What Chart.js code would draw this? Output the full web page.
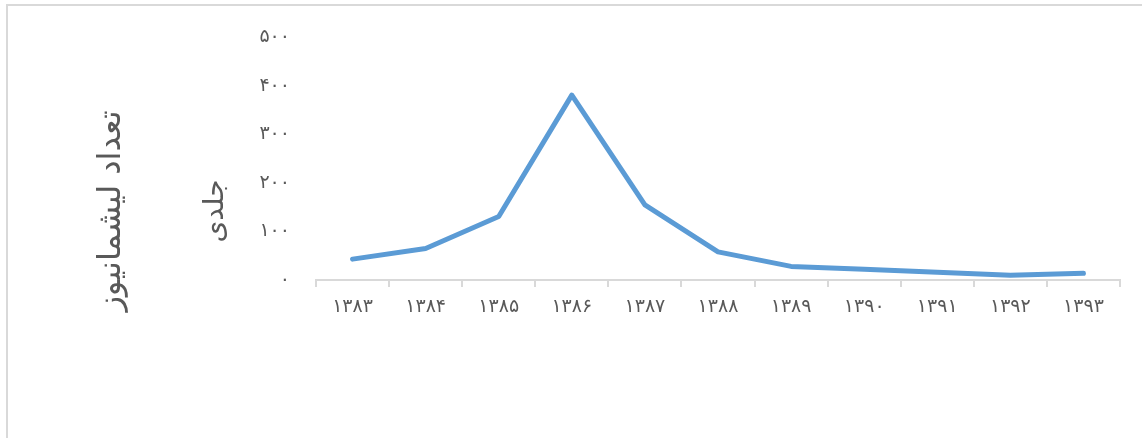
<!DOCTYPE html>
<html lang="fa">
<head>
<meta charset="utf-8">
<title>تعداد لیشمانیوز جلدی</title>
<script src="https://cdn.jsdelivr.net/npm/chart.js@4/dist/chart.umd.min.js"></script>
<style>
  html, body { margin: 0; padding: 0; background: #ffffff; }
  #wrap { position: relative; width: 1142px; height: 438px; overflow: hidden; }
  #frame {
    position: absolute; left: 6px; top: 4px; right: -10px; bottom: -10px;
    border-top: 2px solid #d9d9d9; border-left: 2px solid #d9d9d9;
    pointer-events: none;
  }
  canvas { position: absolute; left: 0; top: 0; }
</style>
</head>
<body>
<div id="wrap">
  <canvas id="chart" width="1142" height="438"></canvas>
  <div id="frame"></div>
</div>
<script>
// Years (Persian calendar) on the category axis
const years = ['۱۳۸۳', '۱۳۸۴', '۱۳۸۵', '۱۳۸۶', '۱۳۸۷', '۱۳۸۸', '۱۳۸۹', '۱۳۹۰', '۱۳۹۱', '۱۳۹۲', '۱۳۹۳'];
// Number of cutaneous leishmaniasis cases per year
const cases = [43, 65, 131, 381, 155, 58, 28, 22, 16, 10, 14];
// Value-axis tick labels (0 … 500, step 100)
const yTickValues = [0, 100, 200, 300, 400, 500];
const yTickLabels = ['۰', '۱۰۰', '۲۰۰', '۳۰۰', '۴۰۰', '۵۰۰'];
// Axis title, written on two rotated lines
const yTitleLines = ['تعداد لیشمانیوز', 'جلدی'];

const FONT = '"DejaVu Sans", sans-serif';
const TEXT = '#595959';
const AXIS = '#d9d9d9';

// Draws the rotated two-line value-axis title
const yTitlePlugin = {
  id: 'yTitle',
  afterDraw(chart) {
    const ctx = chart.ctx;
    const xs = [112, 216];
    const sizes = [32, 28];
    ctx.save();
    ctx.fillStyle = TEXT;
    ctx.textAlign = 'center';
    ctx.textBaseline = 'middle';
    yTitleLines.forEach((line, i) => {
      ctx.save();
      ctx.font = sizes[i] + 'px ' + FONT;
      ctx.translate(xs[i], 211);
      ctx.rotate(-Math.PI / 2);
      ctx.fillText(line, 0, 0);
      ctx.restore();
    });
    ctx.restore();
  }
};

new Chart(document.getElementById('chart'), {
  type: 'line',
  data: {
    labels: years,
    datasets: [{
      data: cases,
      borderColor: '#5b9bd5',
      borderWidth: 5,
      borderCapStyle: 'round',
      borderJoinStyle: 'round',
      pointRadius: 0,
      pointHoverRadius: 0,
      tension: 0,
      fill: false
    }]
  },
  options: {
    responsive: false,
    animation: false,
    events: [],
    layout: { autoPadding: false, padding: { top: 32, right: 22, bottom: 0, left: 0 } },
    plugins: { legend: { display: false }, tooltip: { enabled: false } },
    scales: {
      x: {
        offset: true,
        grid: {
          offset: true,
          drawOnChartArea: false,
          drawTicks: true,
          tickLength: 7,
          color: AXIS,
          lineWidth: 2
        },
        border: { display: true, color: AXIS, width: 2 },
        ticks: {
          color: TEXT,
          font: { family: FONT, size: 19 },
          padding: 9,
          maxRotation: 0,
          autoSkip: false
        },
        afterFit(scale) { scale.height = 158; }
      },
      y: {
        min: 0,
        max: 500,
        afterBuildTicks(scale) {
          scale.ticks = yTickValues.map(v => ({ value: v }));
        },
        grid: { display: false, drawTicks: false },
        border: { display: false },
        ticks: {
          color: TEXT,
          font: { family: FONT, size: 19 },
          padding: 26,
          callback(value) {
            const i = yTickValues.indexOf(value);
            return i >= 0 ? yTickLabels[i] : '';
          }
        },
        afterFit(scale) { scale.width = 316; }
      }
    }
  },
  plugins: [yTitlePlugin]
});
</script>
</body>
</html>
